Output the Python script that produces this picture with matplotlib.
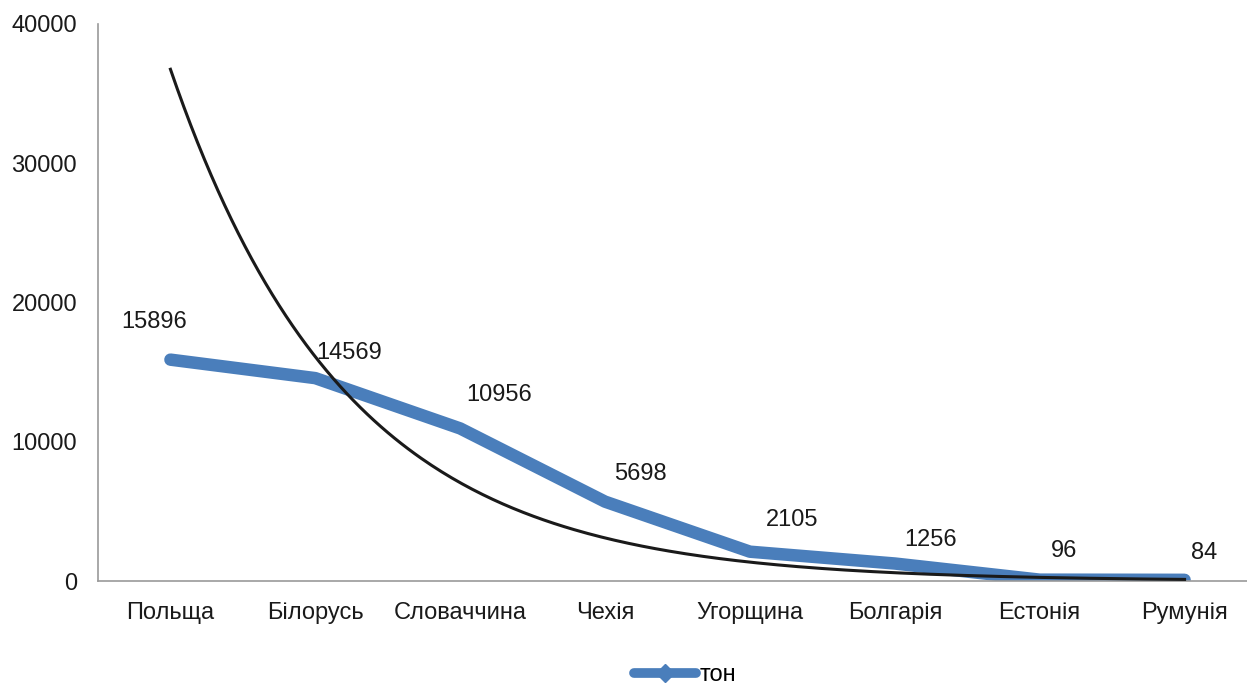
import numpy as np
import matplotlib
matplotlib.use("Agg")
import matplotlib.pyplot as plt
from matplotlib.lines import Line2D

categories = ["Польща", "Білорусь", "Словаччина", "Чехія", "Угорщина", "Болгарія", "Естонія", "Румунія"]
values = [15896, 14569, 10956, 5698, 2105, 1256, 96, 84]
series_name = "тон"
yticks = [0, 10000, 20000, 30000, 40000]

# label offsets in pixels (dx, dy) relative to the point
label_offsets = [(-16, 38), (34, 25), (39, 33), (35, 28), (42, 32), (36, 24), (24, 29), (20, 27)]

plt.rcParams['font.family'] = ['Liberation Sans', 'DejaVu Sans']
FS = 17
TXT = "#1a1a1a"

W, H = 1247, 686
fig = plt.figure(figsize=(W / 100, H / 100), dpi=100)
left, right, top, bottom = 98, 1257, 24, 581
ax = fig.add_axes([left / W, 1 - bottom / H, (right - left) / W, (bottom - top) / H])

x = np.arange(1, len(values) + 1)
blue = "#4a7ebb"
ax.plot(x, values, color=blue, lw=9, solid_capstyle="round", solid_joinstyle="round", zorder=2)

# exponential trendline fitted to the data
b, a = np.polyfit(x, np.log(values), 1)
xt = np.linspace(1, len(values), 300)
ax.plot(xt, np.exp(a + b * xt), color="#1a1a1a", lw=2.2, zorder=3)

for xi, v, (dx, dy) in zip(x, values, label_offsets):
    ax.annotate(str(v), (xi, v), xytext=(dx * 0.72, dy * 0.72), textcoords="offset points",
                ha="center", va="center", fontsize=FS, color=TXT)

ax.set_xlim(0.5, len(values) + 0.5)
ax.set_ylim(0, 40000)
ax.set_yticks(yticks)
ax.set_yticklabels([str(t) for t in yticks], fontsize=FS, color=TXT)
ax.set_xticks(x)
ax.set_xticklabels(categories, fontsize=FS, color=TXT)
ax.tick_params(axis="both", length=0)
ax.tick_params(axis="y", pad=15)
ax.tick_params(axis="x", pad=15)
for s in ["top", "right"]:
    ax.spines[s].set_visible(False)
ax.spines["left"].set_color("#9a9a9a")
ax.spines["bottom"].set_color("#9a9a9a")
ax.spines["left"].set_linewidth(1.2)
ax.spines["bottom"].set_linewidth(1.2)

handle = Line2D([0], [0], color=blue, lw=7, marker="D", markersize=9, solid_capstyle="round",
                markerfacecolor=blue, markeredgecolor=blue)
fig.legend([handle], [series_name], loc="center", bbox_to_anchor=(685 / W, 1 - 675 / H),
           frameon=False, fontsize=FS, handlelength=2.6, handletextpad=0.15)

fig.savefig("out.png", dpi=100)
